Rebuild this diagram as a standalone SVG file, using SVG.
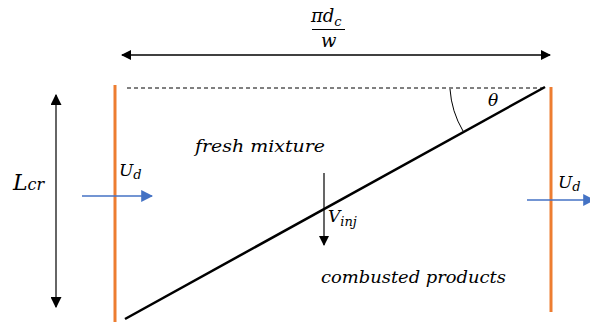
<svg xmlns="http://www.w3.org/2000/svg" width="590" height="325" viewBox="0 0 590 325">
<defs>
<marker id="ah" viewBox="0 0 10 10" refX="9" refY="5" markerWidth="10" markerHeight="10" markerUnits="userSpaceOnUse" orient="auto-start-reverse"><path d="M0,0 L10,5 L0,10 z" fill="#000"/></marker>
<marker id="ahg" viewBox="0 0 10 10" refX="9" refY="5" markerWidth="11" markerHeight="11" markerUnits="userSpaceOnUse" orient="auto-start-reverse"><path d="M0,0 L10,5 L0,10 z" fill="#000"/></marker>
<marker id="ahb" viewBox="0 0 10 10" refX="9" refY="5" markerWidth="12" markerHeight="12" markerUnits="userSpaceOnUse" orient="auto"><path d="M0,0 L10,5 L0,10 z" fill="#4472C4"/></marker>
<style>
.m{font-family:"DejaVu Serif","Liberation Serif",serif;font-style:italic;fill:#000}
.or{stroke:#ED7D31;stroke-width:3;fill:none}
.bl{stroke:#4472C4;stroke-width:1.5;fill:none}
</style>
</defs>
<rect width="590" height="325" fill="#fff"/>
<g id="walls">
<line class="or" x1="115" y1="85" x2="115" y2="322"/>
<line class="or" x1="551" y1="87" x2="551" y2="312"/>
</g>
<g id="flame">
<line x1="127" y1="88" x2="545" y2="88" stroke="#000" stroke-width="1" stroke-dasharray="4 3"/>
<line x1="125" y1="319" x2="545" y2="87" stroke="#000" stroke-width="2.5"/>
<path d="M450,89 A95,95 0 0 0 463,131" stroke="#000" stroke-width="1" fill="none"/>
<text class="m" x="488" y="106" font-size="17">θ</text>
</g>
<g id="connectors">
<line x1="122" y1="55" x2="550" y2="55" stroke="#000" stroke-width="1.5" marker-start="url(#ah)" marker-end="url(#ah)"/>
<line x1="56" y1="95" x2="56" y2="307" stroke="#333" stroke-width="1.5" marker-start="url(#ahg)" marker-end="url(#ahg)"/>
<line class="bl" x1="82" y1="196" x2="152" y2="196" marker-end="url(#ahb)"/>
<line class="bl" x1="527" y1="200" x2="594" y2="200" marker-end="url(#ahb)"/>
<line x1="324" y1="173" x2="324" y2="245" stroke="#000" stroke-width="1.2" marker-end="url(#ah)"/>
</g>
<g id="width-label">
<text class="m" x="311" y="22" font-size="18">πd<tspan font-size="13" dy="4">c</tspan></text>
<line x1="312" y1="29.5" x2="345" y2="29.5" stroke="#000" stroke-width="1.2"/>
<text class="m" x="321" y="47" font-size="18">w</text>
</g>
<g id="length-label">
<text class="m" x="13" y="190" font-size="22">L<tspan font-size="16">cr</tspan></text>
</g>
<g id="ud-left">
<text class="m" x="119" y="176" font-size="17">U<tspan font-size="13" dy="3">d</tspan></text>
</g>
<g id="ud-right">
<text class="m" x="558" y="188" font-size="17">U<tspan font-size="13" dy="3">d</tspan></text>
</g>
<g id="fresh">
<text class="m" x="195" y="152" font-size="17" textLength="130" lengthAdjust="spacingAndGlyphs">fresh mixture</text>
</g>
<g id="vinj">
<text class="m" x="328" y="222" font-size="17">V<tspan font-size="13" dy="4">inj</tspan></text>
</g>
<g id="combusted">
<text class="m" x="321" y="283" font-size="17" textLength="185" lengthAdjust="spacingAndGlyphs">combusted products</text>
</g>
</svg>
